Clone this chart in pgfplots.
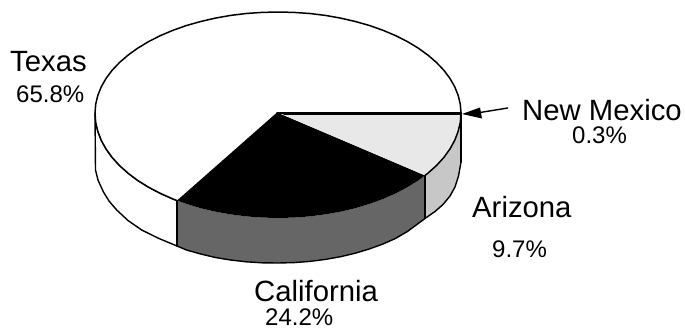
\documentclass[border=0pt]{standalone}
\usepackage{fontspec}
\setmainfont{Liberation Sans}
\usepackage{pgfplots}
\pgfplotsset{compat=1.18}
\definecolor{caSide}{gray}{0.40}
\definecolor{azSide}{gray}{0.78}
\definecolor{azTop}{gray}{0.91}
\newcommand{\namefont}{\fontsize{29.3}{31}\selectfont}
\newcommand{\pctfont}{\fontsize{24}{26}\selectfont}
\begin{document}
\begin{tikzpicture}
\begin{axis}[
  scale only axis, width=685pt, height=330pt,
  xmin=0, xmax=685, ymin=0, ymax=330, y dir=reverse,
  axis lines=none, clip=false,
  every axis plot/.append style={line join=round, line cap=round}
]
% keep the whole plotting area inside the page
\path (axis cs:0,0) rectangle (axis cs:685,330);
% side wall of the Texas slice
\addplot[draw=black, line width=1.4pt, fill=white] coordinates {
 (95,113) (95.5,170) (98,180) (103.3,191.7) (109,201) (116.7,210) (128,220.5) (141.7,230) (159,238.5) (177,246) (177,200.5)
 (173,199) (160.4,193.4) (148.6,187.2) (137.8,180.5) (128.1,173.2) (119.5,165.5) (112.1,157.4) (106,148.9) (101.2,140.2) (97.8,131.2) (95.7,122.2) (95,113)} -- cycle;
% side wall of the California slice
\addplot[draw=none, fill=caSide] coordinates {
 (177,200.5) (186.5,203.9) (200.7,208.2) (215.4,211.7) (230.6,214.4) (246.2,216.4) (262,217.6) (278,218) (294,217.6) (309.8,216.4) (325.4,214.4) (340.6,211.7) (355.3,208.2) (369.5,203.9) (383,199) (395.6,193.4) (407.4,187.2) (418.2,180.5) (425,175.4)
 (425,218.5) (418.2,223.5) (407.4,231.5) (395.6,238.4) (383,244) (369.5,248.9) (355.3,253.2) (340.6,256.7) (325.4,259.4) (309.8,261.4) (294,262.6) (278,263) (262,262.8) (246.2,261.8) (230.6,260) (215.4,257.5) (200.7,254) (186.5,250) (177,246)} -- cycle;
% side wall of the Arizona slice
\addplot[draw=none, fill=azSide] coordinates {
 (425,175.4) (427.9,173.2) (436.5,165.5) (443.9,157.4) (450,148.9) (454.8,140.2) (458.2,131.2) (460.3,122.2) (461,113)
 (461,162) (458.5,176) (455,187) (450,196) (443,204.5) (435,211.5) (425,218.5)} -- cycle;
% lower rim of the base
\addplot[draw=black, line width=1.4pt] coordinates {
 (177,246) (186.5,250) (200.7,254) (215.4,257.5) (230.6,260) (246.2,261.8) (262,262.8) (278,263) (294,262.6) (309.8,261.4) (325.4,259.4) (340.6,256.7) (355.3,253.2) (369.5,248.9) (383,244) (395.6,238.4) (407.4,231.5) (418.2,223.5) (425,218.5) (435,211.5) (443,204.5) (450,196) (455,187) (458.5,176) (461,162)};
% vertical edges
\addplot[draw=black, line width=1.8pt] coordinates {(177,200.5) (177,246)};
\addplot[draw=black, line width=1.5pt] coordinates {(425,175.4) (425,218.5)};
\addplot[draw=black, line width=2.2pt] coordinates {(461,113) (461,162)};
% top face: Texas
\addplot[draw=none, fill=white] coordinates {
 (461,113) (460.3,104.2) (458.2,95.5) (454.8,86.9) (450,78.5) (443.9,70.3) (436.5,62.5) (427.9,55.1) (418.2,48.1) (407.4,41.6) (395.6,35.6) (383,30.3) (369.5,25.5) (355.3,21.5) (340.6,18.1) (325.4,15.4) (309.8,13.5) (294,12.4) (278,12) (262,12.4) (246.2,13.5) (230.6,15.4) (215.4,18.1) (200.7,21.5) (186.5,25.5) (173,30.3) (160.4,35.6) (148.6,41.6) (137.8,48.1) (128.1,55.1) (119.5,62.5) (112.1,70.3) (106,78.5) (101.2,86.9) (97.8,95.5) (95.7,104.2) (95,113)
 (95.7,122.2) (97.8,131.2) (101.2,140.2) (106,148.9) (112.1,157.4) (119.5,165.5) (128.1,173.2) (137.8,180.5) (148.6,187.2) (160.4,193.4) (173,199) (177,200.5) (277,112.5)} -- cycle;
% top face: California
\addplot[draw=none, fill=black] coordinates {
 (277,112.5) (177,200.5) (186.5,203.9) (200.7,208.2) (215.4,211.7) (230.6,214.4) (246.2,216.4) (262,217.6) (278,218) (294,217.6) (309.8,216.4) (325.4,214.4) (340.6,211.7) (355.3,208.2) (369.5,203.9) (383,199) (395.6,193.4) (407.4,187.2) (418.2,180.5) (425,175.4)} -- cycle;
% top face: Arizona
\addplot[draw=none, fill=azTop] coordinates {
 (284,115) (425,175.4) (427.9,173.2) (436.5,165.5) (443.9,157.4) (450,148.9) (454.8,140.2) (458.2,131.2) (460.3,122.2) (461,115)} -- cycle;
% rim of the top face
\addplot[draw=black, line width=1.5pt] coordinates {
 (461,113) (460.3,104.2) (458.2,95.5) (454.8,86.9) (450,78.5) (443.9,70.3) (436.5,62.5) (427.9,55.1) (418.2,48.1) (407.4,41.6) (395.6,35.6) (383,30.3) (369.5,25.5) (355.3,21.5) (340.6,18.1) (325.4,15.4) (309.8,13.5) (294,12.4) (278,12) (262,12.4) (246.2,13.5) (230.6,15.4) (215.4,18.1) (200.7,21.5) (186.5,25.5) (173,30.3) (160.4,35.6) (148.6,41.6) (137.8,48.1) (128.1,55.1) (119.5,62.5) (112.1,70.3) (106,78.5) (101.2,86.9) (97.8,95.5) (95.7,104.2) (95,113)
 (95.7,122.2) (97.8,131.2) (101.2,140.2) (106,148.9) (112.1,157.4) (119.5,165.5) (128.1,173.2) (137.8,180.5) (148.6,187.2) (160.4,193.4) (173,199) (177,200.5)};
\addplot[draw=black, line width=1.5pt] coordinates {
 (425,175.4) (427.9,173.2) (436.5,165.5) (443.9,157.4) (450,148.9) (454.8,140.2) (458.2,131.2) (460.3,122.2) (461,113)};
% New Mexico sliver edges
\addplot[draw=black, line width=1.8pt] coordinates {(277,112.8) (461,112.8)};
\addplot[draw=black, line width=1.4pt] coordinates {(284,114.4) (461,114.4)};
% pointer to the New Mexico slice
\addplot[draw=black, line width=1.4pt] coordinates {(507.7,108) (480,112.5)};
\addplot[draw=none, fill=black] coordinates {(462,114) (480,107.5) (482,118.5)} -- cycle;
% slice labels
\node[anchor=base west, inner sep=0pt, font=\namefont] at (axis cs:10,71) {Texas};
\node[anchor=base west, inner sep=0pt, font=\pctfont] at (axis cs:16,102) {65.8\%};
\node[anchor=base west, inner sep=0pt, font=\namefont] at (axis cs:522,120) {New Mexico};
\node[anchor=base west, inner sep=0pt, font=\pctfont] at (axis cs:572,143) {0.3\%};
\node[anchor=base west, inner sep=0pt, font=\namefont] at (axis cs:472,217) {Arizona};
\node[anchor=base west, inner sep=0pt, font=\pctfont] at (axis cs:492,257) {9.7\%};
\node[anchor=base west, inner sep=0pt, font=\namefont] at (axis cs:254,301) {California};
\node[anchor=base west, inner sep=0pt, font=\pctfont] at (axis cs:265,325) {24.2\%};
\end{axis}
\end{tikzpicture}
\end{document}
